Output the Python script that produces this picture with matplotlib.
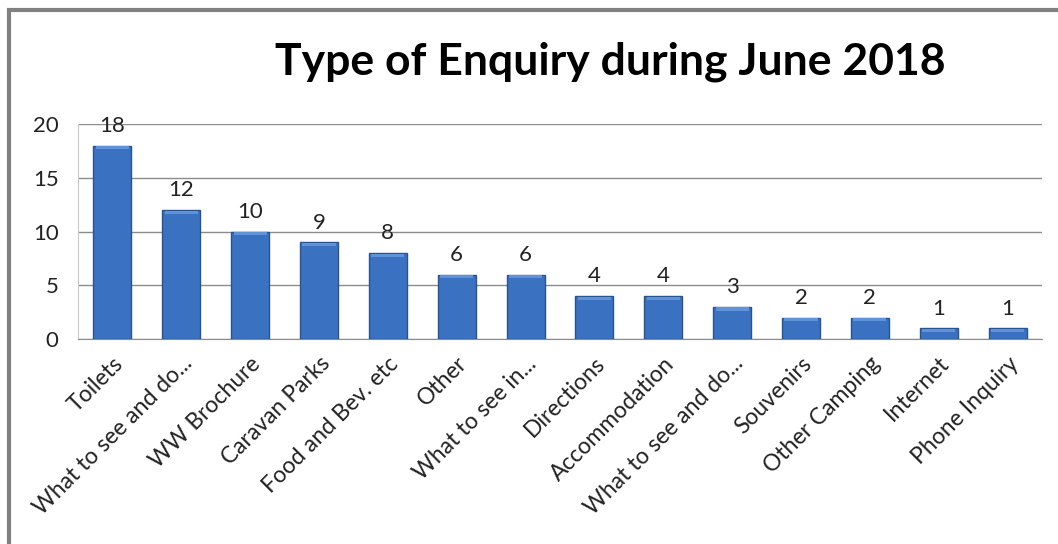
import matplotlib
matplotlib.use("Agg")
import matplotlib.pyplot as plt
from matplotlib.patches import Rectangle

# dados do gráfico
categorias = ["Toilets", "What to see and do...", "WW Brochure", "Caravan Parks",
              "Food and Bev. etc", "Other", "What to see in...", "Directions",
              "Accommodation", "What to see and do...", "Souvenirs", "Other Camping",
              "Internet", "Phone Inquiry"]
valores = [18, 12, 10, 9, 8, 6, 6, 4, 4, 3, 2, 2, 1, 1]
yticks = [0, 5, 10, 15, 20]

plt.rcParams['font.family'] = ['Lato', 'DejaVu Sans']

fig = plt.figure(figsize=(10.58, 5.44), dpi=100)
ax = fig.add_axes([78 / 1058, 1 - 339 / 544, 964 / 1058, 215 / 544])

x = range(len(categorias))
ax.bar(x, valores, width=0.55, color="#3b71c1", edgecolor="#27538f", linewidth=1.0, zorder=3)
# brilho no topo das barras
ax.bar(x, [0.3] * len(valores), bottom=[v - 0.35 for v in valores], width=0.48,
       color="#5f92d8", linewidth=0, zorder=4)

for xi, v in zip(x, valores):
    ax.annotate(str(v), (xi, v), xytext=(0, 7), textcoords="offset points",
                ha="center", va="bottom", fontsize=16, color="#222222")

ax.set_xlim(-0.5, len(categorias) - 0.5)
ax.set_ylim(0, 20)
ax.set_yticks(yticks)
ax.set_yticklabels([str(t) for t in yticks], fontsize=16, color="#222222")
ax.set_xticks(list(x))
ax.set_xticklabels(categorias, rotation=45, ha="right", rotation_mode="anchor",
                   fontsize=16.5, color="#222222")
ax.tick_params(axis="both", length=0)
ax.tick_params(axis="y", pad=14)
ax.tick_params(axis="x", pad=10)

ax.grid(axis="y", color="#8c8c8c", linewidth=1.0, zorder=0)
for lado in ["top", "right"]:
    ax.spines[lado].set_visible(False)
ax.spines["left"].set_color("#c8c8c8")
ax.spines["bottom"].set_color("#8c8c8c")

fig.text(0.577, 1 - 62 / 544, "Type of Enquiry during June 2018", ha="center", va="center",
         fontsize=32, fontweight="bold", color="#000000")

# moldura cinzenta
fig.patches.append(Rectangle((9 / 1058, -0.1), 1.2, 1 - 10 / 544 + 0.1, transform=fig.transFigure,
                             fill=False, edgecolor="#808080", linewidth=3))

fig.savefig("out.png", dpi=100, facecolor="white")
